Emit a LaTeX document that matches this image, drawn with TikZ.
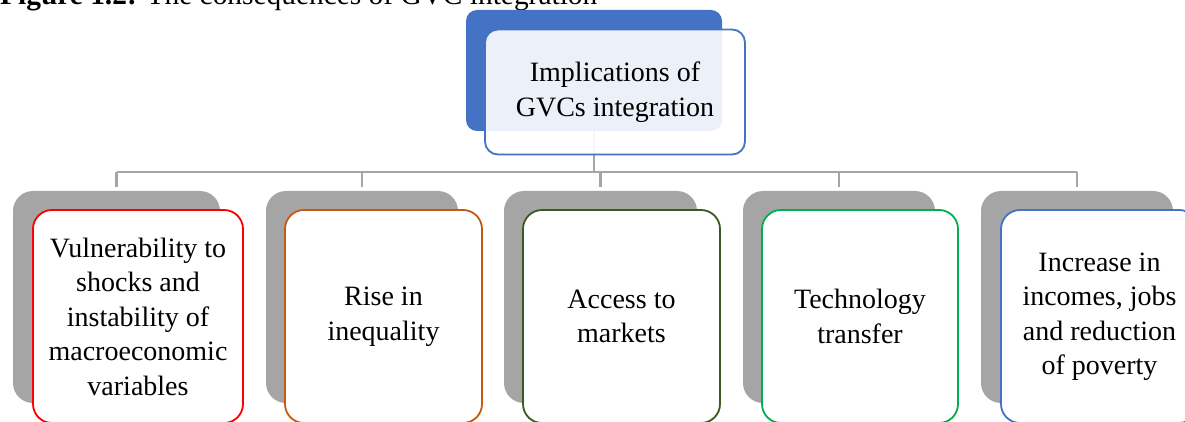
\documentclass[tikz,border=0pt]{standalone}
\usepackage{fontspec}
\setmainfont{Liberation Serif}
\definecolor{accblue}{HTML}{4472C4}
\definecolor{shadowgrey}{HTML}{A5A5A5}
\definecolor{linegrey}{HTML}{A5A5A5}
\definecolor{bred}{HTML}{FF0000}
\definecolor{borange}{HTML}{C55A11}
\definecolor{bdkgreen}{HTML}{3B5A23}
\definecolor{bgreen}{HTML}{00B050}
\begin{document}
\begin{tikzpicture}[x=1pt,y=-1pt,
  backbox/.style={rectangle, rounded corners=20pt, fill=shadowgrey, draw=none, inner sep=0pt},
  frontbox/.style={rectangle, rounded corners=19pt, fill=white, line width=1.8pt, inner sep=0pt,
     align=center, font=\fontsize{28}{34.5}\selectfont},
  conn/.style={draw=linegrey, line width=2.5pt},
]
\useasboundingbox (0,0) rectangle (1185,422);

% title (cropped at the top edge)
\node[anchor=base west, inner sep=0pt, font=\fontsize{29.4}{34}\selectfont] (title) at (0,5)
  {\textbf{Figure 1.2:} The consequences of GVC integration};

% top node
\node[rectangle, rounded corners=11pt, fill=accblue, inner sep=0pt,
      minimum width=256pt, minimum height=121pt] (topback) at (594,70.5) {};
\coordinate (bus) at (0,172);
% connectors
\foreach \c in {g1,g2,g3,g4,g5}{}
% children back boxes
\node[backbox, minimum width=207pt, minimum height=212pt] (g1) at (116.5,297) {};
\node[backbox, minimum width=192pt, minimum height=212pt] (g2) at (362,297) {};
\node[backbox, minimum width=193pt, minimum height=212pt] (g3) at (600.5,297) {};
\node[backbox, minimum width=192pt, minimum height=212pt] (g4) at (839,297) {};
\node[backbox, minimum width=192pt, minimum height=212pt] (g5) at (1077,297) {};

\draw[conn] (topback.south) -- (topback.south |- bus);
\draw[conn] (g1.north |- bus) -- (g5.north |- bus);
\foreach \g in {g1,g2,g3,g4,g5}{
  \draw[conn] (\g.north |- bus) -- ([yshift=4pt]\g.north);
}

\node[rectangle, rounded corners=13pt, fill=white, fill opacity=0.9, draw=accblue, line width=1.8pt,
      minimum width=260pt, minimum height=125pt, align=center, text opacity=1,
      font=\fontsize{28}{35}\selectfont] (top) at (615,92)
  {Implications of\\GVCs integration};

% children front boxes
\node[frontbox, draw=bred, minimum width=210pt, minimum height=213pt] (f1) at (138,316.5)
  {Vulnerability to\\shocks and\\instability of\\macroeconomic\\variables};
\node[frontbox, draw=borange, minimum width=197pt, minimum height=213pt] (f2) at (383.5,316.5)
  {Rise in\\inequality};
\node[frontbox, draw=bdkgreen, minimum width=197pt, minimum height=213pt] (f3) at (621.5,316.5)
  {Access to\\markets};
\node[frontbox, draw=bgreen, minimum width=196pt, minimum height=213pt] (f4) at (860,316.5)
  {Technology\\transfer};
\node[frontbox, draw=accblue, minimum width=197pt, minimum height=213pt] (f5) at (1099.5,316.5)
  {Increase in\\incomes, jobs\\and reduction\\of poverty};
\end{tikzpicture}
\end{document}
